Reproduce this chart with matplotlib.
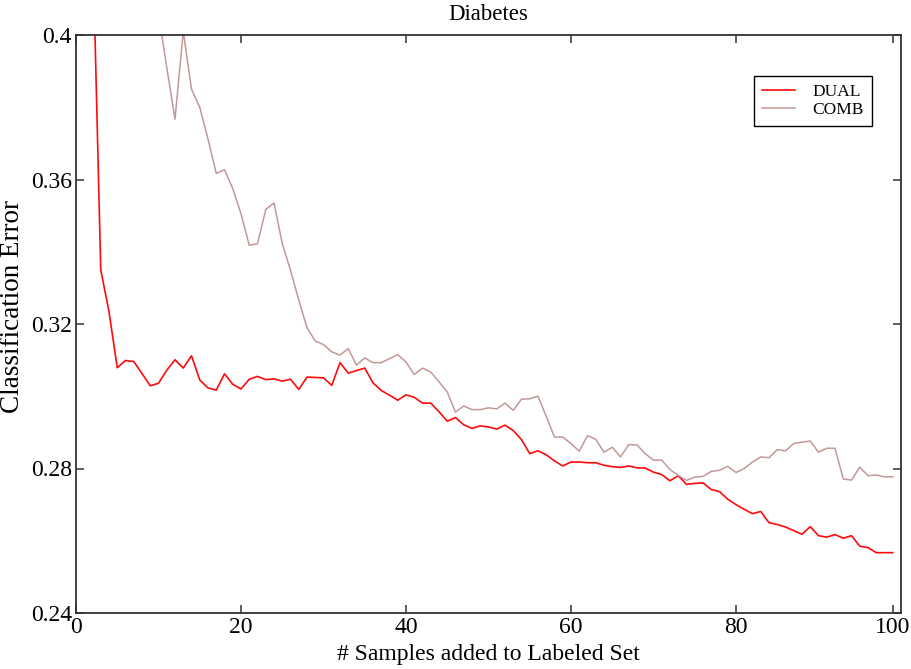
import numpy as np
import matplotlib.pyplot as plt

plt.rcParams['font.family'] = ['Liberation Serif', 'DejaVu Serif']

# number of samples added (0..99); points above 0.4 are off the chart
samples = list(range(100))
nan = np.nan

dual = [nan, 0.450, 0.428, 0.335, 0.3234, 0.3079, 0.3099, 0.3096, 0.3063, 0.3029,
        0.3036, 0.3072, 0.3101, 0.3078, 0.3112, 0.3045, 0.3023, 0.3017, 0.3062, 0.3033,
        0.3020, 0.3047, 0.3055, 0.3046, 0.3048, 0.3042, 0.3047, 0.3019, 0.3053, 0.3052,
        0.3051, 0.3030, 0.3093, 0.3064, 0.3071, 0.3078, 0.3037, 0.3016, 0.3003, 0.2989,
        0.3004, 0.2997, 0.2981, 0.2981, 0.2957, 0.2931, 0.2941, 0.2921, 0.2911, 0.2918,
        0.2915, 0.2909, 0.2920, 0.2905, 0.2880, 0.2841, 0.2849, 0.2838, 0.2821, 0.2807,
        0.2818, 0.2818, 0.2816, 0.2816, 0.2809, 0.2805, 0.2803, 0.2807, 0.2802, 0.2801,
        0.2790, 0.2783, 0.2766, 0.2780, 0.2756, 0.2759, 0.2760, 0.2742, 0.2736, 0.2715,
        0.2700, 0.2687, 0.2675, 0.2681, 0.2650, 0.2645, 0.2638, 0.2628, 0.2618, 0.2639,
        0.2614, 0.2610, 0.2617, 0.2607, 0.2614, 0.2585, 0.2581, 0.2567, 0.2567, 0.2567]

comb = [nan, nan, nan, nan, nan, nan, nan, nan, nan, 0.415,
        0.406, 0.391, 0.3767, 0.401, 0.385, 0.380, 0.3712, 0.3617, 0.3627, 0.3575,
        0.3505, 0.3418, 0.3422, 0.3517, 0.3535, 0.3423, 0.3349, 0.3266, 0.3190, 0.3153,
        0.3143, 0.3123, 0.3114, 0.3132, 0.3086, 0.3106, 0.3093, 0.3093, 0.3104, 0.3115,
        0.3095, 0.3060, 0.3078, 0.3067, 0.3040, 0.3012, 0.2956, 0.2973, 0.2963, 0.2963,
        0.2968, 0.2965, 0.2981, 0.2961, 0.2992, 0.2993, 0.3000, 0.2944, 0.2887, 0.2887,
        0.2869, 0.2848, 0.2891, 0.2881, 0.2845, 0.2859, 0.2832, 0.2866, 0.2865, 0.2841,
        0.2823, 0.2823, 0.2797, 0.2781, 0.2767, 0.2776, 0.2778, 0.2792, 0.2795, 0.2806,
        0.2789, 0.2800, 0.2818, 0.2832, 0.2830, 0.2852, 0.2849, 0.2869, 0.2873, 0.2876,
        0.2845, 0.2856, 0.2856, 0.2771, 0.2768, 0.2804, 0.2780, 0.2782, 0.2777, 0.2777]

xtick_pos = [0, 20, 40, 60, 80, 99]
xtick_labels = ['0', '20', '40', '60', '80', '100']
ytick_pos = [0.24, 0.28, 0.32, 0.36, 0.4]
ytick_labels = ['0.24', '0.28', '0.32', '0.36', '0.4']

fig = plt.figure(figsize=(9.11, 6.69), dpi=100)
ax = fig.add_axes([76 / 911, 56 / 669, 825 / 911, 578 / 669])

ax.plot(samples, dual, color='#ff0a0a', lw=1.2, label='DUAL')
ax.plot(samples, comb, color='#c29898', lw=1.1, label='COMB')

ax.set_xlim(0, 100)
ax.set_ylim(0.24, 0.4)
ax.set_xticks(xtick_pos, xtick_labels)
ax.set_yticks(ytick_pos, ytick_labels)
ax.tick_params(direction='in', length=6, width=1.1, color='#333333',
               top=True, right=True, labelsize=17, pad=3)
for s in ax.spines.values():
    s.set_color('#333333')
    s.set_linewidth(1.3)

ax.set_title('Diabetes', fontsize=16.5, pad=11)
ax.set_xlabel('# Samples added to Labeled Set', fontsize=17, labelpad=4)
ax.set_ylabel('Classification Error', fontsize=19.5)
ax.yaxis.set_label_coords(-0.062, 0.53)

leg = ax.legend(loc='upper right', bbox_to_anchor=(0.9645, 0.929), borderaxespad=0,
                fontsize=12.5, handlelength=1.9, handletextpad=1.0,
                labelspacing=0.1, borderpad=0.45, fancybox=False, framealpha=1)
leg.get_frame().set_edgecolor('black')
leg.get_frame().set_linewidth(1.0)

fig.savefig('out.png', dpi=100)
